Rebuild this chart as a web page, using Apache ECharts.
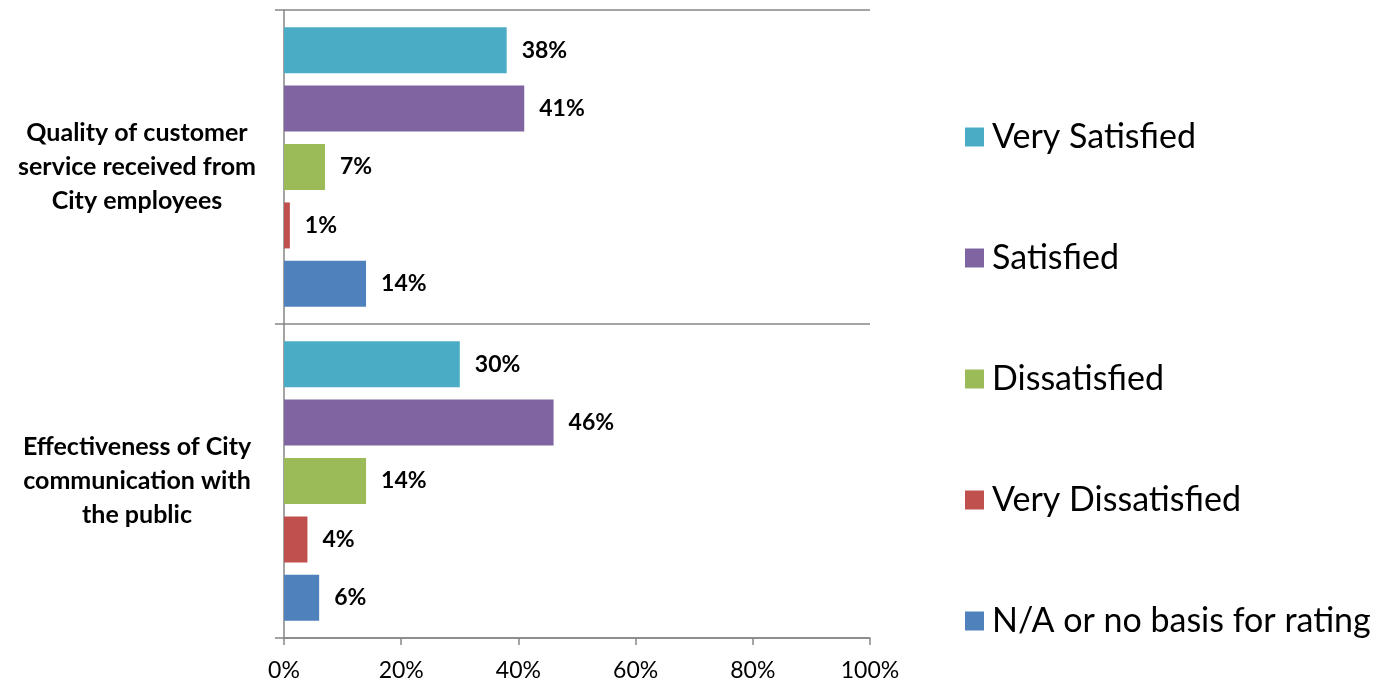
<!DOCTYPE html>
<html><head><meta charset="utf-8">
<script src="https://cdn.jsdelivr.net/npm/echarts@6/dist/echarts.min.js"></script>
<style>html,body{margin:0;padding:0;background:#fff}#c{width:1396px;height:686px}</style>
</head><body><div id="c"></div>
<script>
const categories = ['Quality of customer\nservice received from\nCity employees', 'Effectiveness of City\ncommunication with\nthe public'];
const seriesNames = ['Very Satisfied', 'Satisfied', 'Dissatisfied', 'Very Dissatisfied', 'N/A or no basis for rating'];
const verySatisfied = [38, 30];
const satisfied = [41, 46];
const dissatisfied = [7, 14];
const veryDissatisfied = [1, 4];
const naRating = [14, 6];
const xTicks = [0, 20, 40, 60, 80, 100];
const colors = ['#4BACC6', '#8064A2', '#9BBB59', '#C0504D', '#4F81BD'];
const values = [verySatisfied, satisfied, dissatisfied, veryDissatisfied, naRating];
const FONT = 'Lato';

const chart = echarts.init(document.getElementById('c'));
chart.setOption({
  animation: false,
  textStyle: { fontFamily: FONT },
  grid: { left: 284, right: 526, top: 10, bottom: 48, containLabel: false },
  legend: {
    orient: 'vertical', left: 960, top: 115, itemGap: 87,
    itemWidth: 19, itemHeight: 19, icon: 'rect',
    textStyle: { fontSize: 34, color: '#000', fontFamily: FONT, padding: [0, 0, 0, 3] },
    data: seriesNames
  },
  xAxis: {
    type: 'value', min: 0, max: 100, interval: 20,
    axisLine: { show: true, lineStyle: { color: '#868686', width: 1.5 } },
    axisTick: { show: true, length: 7, lineStyle: { color: '#868686', width: 1.5 } },
    splitLine: { show: false },
    axisLabel: { formatter: v => xTicks.includes(v) ? v + '%' : '', fontSize: 23, color: '#000', margin: 21, fontFamily: FONT }
  },
  yAxis: {
    type: 'category', data: categories, inverse: true,
    axisLine: { show: true, lineStyle: { color: '#868686', width: 1.5 } },
    axisTick: { show: true, length: 9, lineStyle: { color: '#868686', width: 1.5 } },
    splitLine: { show: true, lineStyle: { color: '#868686', width: 1.5 } },
    axisLabel: { fontSize: 25, fontWeight: 'bold', color: '#000', align: 'center', margin: 147, lineHeight: 34, fontFamily: FONT }
  },
  series: seriesNames.map((n, i) => ({
    name: n, type: 'bar', data: values[i], barWidth: 46, barGap: '27%',
    itemStyle: { color: colors[i] },
    label: { show: true, position: 'right', distance: 15, formatter: '{c}%', fontSize: 23, fontWeight: 'bold', color: '#000', fontFamily: FONT }
  }))
});
</script></body></html>
